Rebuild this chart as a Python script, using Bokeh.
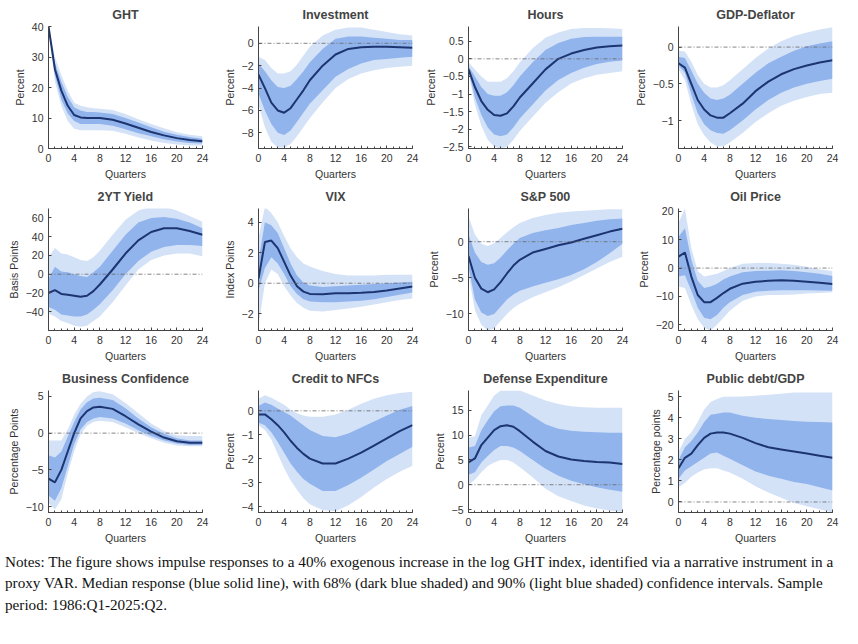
from bokeh.plotting import figure
from bokeh.layouts import column, gridplot
from bokeh.models import Span, Div, FixedTicker, Range1d, ColumnDataSource
from bokeh.embed import file_html
from bokeh.resources import INLINE

quarters = [0, 1, 2, 3, 4, 5, 6, 7, 8, 10, 12, 14, 16, 18, 20, 22, 24]

titles = ["GHT", "Investment", "Hours", "GDP-Deflator", "2YT Yield", "VIX", "S&P 500", "Oil Price",
          "Business Confidence", "Credit to NFCs", "Defense Expenditure", "Public debt/GDP"]
ylabels = ["Percent", "Percent", "Percent", "Percent", "Basis Points", "Index Points", "Percent", "Percent",
           "Percentage Points", "Percent", "Percent", "Percentage points"]
yticks = [[0, 10, 20, 30, 40], [-8, -6, -4, -2, 0], [-2.5, -2, -1.5, -1, -0.5, 0, 0.5], [-1, -0.5, 0],
          [-40, -20, 0, 20, 40, 60], [-2, 0, 2, 4], [-10, -5, 0], [-20, -10, 0, 10, 20],
          [-10, -5, 0, 5], [-4, -3, -2, -1, 0], [-5, 0, 5, 10, 15], [0, 1, 2, 3, 4, 5]]
yranges = [(0, 40), (-9.4, 1.5), (-2.55, 0.92), (-1.38, 0.28), (-60, 70), (-3.1, 4.9), (-12.3, 4.6), (-22, 21),
           (-10.8, 5.8), (-4.25, 0.85), (-5.6, 19), (-0.5, 5.3)]
show_zero = [False] + [True] * 11

median = [
    [40, 26, 19, 14, 11, 10.2, 10, 10, 10, 9.4, 8.2, 6.8, 5.4, 4.3, 3.4, 2.8, 2.4],
    [-2.8, -4, -5.3, -6, -6.2, -5.8, -5, -4.2, -3.3, -2, -1, -0.5, -0.35, -0.3, -0.3, -0.35, -0.4],
    [-0.3, -0.8, -1.2, -1.45, -1.6, -1.62, -1.55, -1.35, -1.1, -0.7, -0.3, 0, 0.15, 0.25, 0.32, 0.36, 0.38],
    [-0.22, -0.28, -0.5, -0.72, -0.85, -0.93, -0.96, -0.96, -0.9, -0.77, -0.6, -0.47, -0.37, -0.3, -0.25, -0.21, -0.18],
    [-20, -17, -21, -22, -23, -24, -23, -18, -11, 5, 22, 36, 45, 49, 49, 46, 42],
    [0.3, 2.7, 2.8, 2.3, 1.4, 0.5, -0.2, -0.55, -0.7, -0.72, -0.65, -0.65, -0.62, -0.58, -0.48, -0.35, -0.22],
    [-2, -5, -6.5, -7, -6.6, -5.6, -4.4, -3.3, -2.5, -1.5, -1, -0.5, -0.1, 0.4, 0.9, 1.4, 1.8],
    [4, 5.5, -3, -9.5, -12, -12, -10.5, -8.8, -7.3, -5.5, -4.8, -4.5, -4.3, -4.5, -4.8, -5.2, -5.6],
    [-6.2, -6.7, -5, -2.5, 0, 2, 3, 3.5, 3.6, 3.3, 2.3, 1.2, 0.2, -0.6, -1.1, -1.3, -1.3],
    [-0.15, -0.15, -0.35, -0.6, -0.9, -1.25, -1.55, -1.8, -2, -2.2, -2.2, -2, -1.75, -1.45, -1.15, -0.85, -0.6],
    [4.5, 5.3, 8, 9.5, 11, 11.8, 12, 11.7, 10.8, 8.7, 6.8, 5.7, 5.1, 4.8, 4.6, 4.5, 4.2],
    [1.6, 2.1, 2.3, 2.7, 3.05, 3.25, 3.3, 3.3, 3.25, 3.05, 2.8, 2.6, 2.5, 2.4, 2.3, 2.2, 2.1],
]
lo68 = [
    [40, 24, 16, 11.5, 9, 8, 8, 8, 8, 7.5, 6.3, 5, 4, 3, 2.3, 1.8, 1.6],
    [-4.5, -6, -7.2, -8, -8.2, -7.8, -7, -6.2, -5.4, -4.2, -3, -2.3, -1.8, -1.5, -1.4, -1.3, -1.2],
    [-0.35, -1.1, -1.6, -1.95, -2.15, -2.2, -2.15, -1.95, -1.7, -1.3, -0.9, -0.6, -0.4, -0.25, -0.15, -0.08, -0.05],
    [-0.25, -0.35, -0.65, -0.9, -1.05, -1.13, -1.17, -1.18, -1.13, -1.0, -0.85, -0.72, -0.62, -0.55, -0.5, -0.46, -0.43],
    [-35, -38, -43, -44, -45, -45, -43, -38, -32, -17, 0, 14, 24, 29, 31, 31, 30],
    [-0.5, 1, 1.7, 1.3, 0.6, -0.2, -0.7, -1.05, -1.2, -1.25, -1.25, -1.2, -1.15, -1.05, -0.9, -0.75, -0.6],
    [-3.5, -8, -9.8, -10.3, -10, -9, -8, -7.3, -6.8, -6.2, -5.7, -5.2, -4.6, -3.8, -2.8, -1.6, -0.3],
    [-3, -2.5, -8, -14, -17.5, -18, -16.5, -14, -12, -9.5, -8.3, -8, -7.8, -7.8, -7.8, -7.9, -8],
    [-8.5, -9.2, -7.5, -4.5, -1.5, 0.5, 1.5, 2, 2.2, 2, 1.3, 0.4, -0.4, -1, -1.4, -1.6, -1.6],
    [-0.5, -0.6, -0.9, -1.3, -1.75, -2.2, -2.55, -2.85, -3.05, -3.35, -3.35, -3.1, -2.8, -2.45, -2.1, -1.8, -1.5],
    [2, 2.5, 4.5, 5.8, 7, 7.8, 7.8, 7.5, 6.8, 5, 3.2, 1.8, 0.8, 0.1, -0.5, -1, -1.4],
    [1.1, 1.5, 1.7, 1.9, 2.1, 2.3, 2.35, 2.2, 2.05, 1.75, 1.45, 1.25, 1.1, 0.95, 0.85, 0.7, 0.55],
]
hi68 = [
    [40, 28, 22, 17, 13.5, 12.5, 12, 12, 11.8, 11.3, 10, 8.5, 7, 5.5, 4.5, 3.8, 3.2],
    [-1.8, -2.5, -3.3, -3.9, -4, -3.8, -3.2, -2.5, -1.7, -0.5, 0.4, 0.6, 0.6, 0.5, 0.4, 0.3, 0.3],
    [-0.2, -0.5, -0.8, -1, -1.05, -1.05, -0.95, -0.75, -0.5, -0.1, 0.25, 0.45, 0.57, 0.62, 0.63, 0.63, 0.63],
    [-0.13, -0.15, -0.32, -0.5, -0.62, -0.7, -0.72, -0.7, -0.65, -0.5, -0.35, -0.22, -0.13, -0.05, 0.01, 0.05, 0.08],
    [-5, 8, 3, 2, 0, -2, -3, 2, 8, 25, 42, 55, 60, 61, 59, 55, 49],
    [1.5, 4, 3.8, 3.3, 2.3, 1.3, 0.5, 0.05, -0.15, -0.25, -0.2, -0.15, -0.1, -0.05, 0, 0.05, 0.1],
    [1, -1.5, -2.8, -3.2, -3, -2.2, -1.2, -0.3, 0.5, 1.2, 1.6, 1.9, 2.3, 2.6, 2.9, 3.1, 3.2],
    [11, 14, 3, -4.5, -7, -6.5, -5.5, -4, -3, -1.5, -1, -0.9, -0.8, -1, -1.5, -2, -2.8],
    [-3, -3.3, -2.5, -0.5, 1.5, 3.2, 4.2, 4.7, 4.8, 4.5, 3.4, 2, 0.8, -0.1, -0.7, -1, -1.0],
    [0.2, 0.35, 0.25, 0.1, -0.05, -0.2, -0.4, -0.6, -0.8, -1.05, -1.1, -0.95, -0.7, -0.45, -0.2, 0.05, 0.2],
    [7.5, 7.8, 11, 13, 14.8, 15.8, 16, 16, 15.5, 13.8, 12.2, 11.3, 10.9, 10.7, 10.6, 10.5, 10.5],
    [2, 2.6, 2.9, 3.3, 3.8, 4.15, 4.2, 4.25, 4.25, 4.1, 4.0, 3.95, 3.9, 3.85, 3.82, 3.8, 3.78],
]
lo90 = [
    [40, 22, 14, 9, 6.5, 6, 6, 6, 6, 5.8, 4.8, 3.6, 2.6, 1.8, 1.3, 1, 1],
    [-5.5, -7.5, -8.8, -9.3, -9.3, -9, -8.3, -7.5, -6.7, -5.3, -4, -3.2, -2.7, -2.4, -2.2, -2.1, -2],
    [-0.4, -1.3, -1.9, -2.3, -2.5, -2.55, -2.5, -2.3, -2.05, -1.65, -1.25, -0.95, -0.7, -0.55, -0.45, -0.4, -0.35],
    [-0.3, -0.45, -0.78, -1.05, -1.2, -1.3, -1.35, -1.35, -1.3, -1.17, -1.02, -0.9, -0.8, -0.73, -0.68, -0.64, -0.62],
    [-42, -45, -50, -52, -55, -56, -55, -50, -45, -30, -12, 5, 15, 20, 22, 22, 19],
    [-2.8, 0, 0.9, 0.6, -0.2, -0.8, -1.3, -1.6, -1.8, -1.85, -1.75, -1.65, -1.55, -1.4, -1.25, -1.1, -1.0],
    [-4.5, -9.5, -11.5, -12.3, -12, -11, -10, -9.2, -8.6, -7.7, -7, -6.3, -5.5, -4.6, -3.7, -2.8, -2.1],
    [-6.5, -7, -13, -18, -21, -22, -20, -17.5, -15, -11.5, -10, -9.5, -9.5, -9.3, -9, -8.8, -8.5],
    [-9.5, -10.4, -9, -5.5, -2.5, -0.2, 1, 1.5, 1.7, 1.5, 0.8, 0, -0.7, -1.3, -1.7, -1.8, -1.8],
    [-0.6, -0.8, -1.2, -1.8, -2.4, -2.9, -3.3, -3.65, -3.9, -4.15, -4.2, -3.95, -3.6, -3.2, -2.85, -2.55, -2.3],
    [0, 1, 2.5, 3.8, 4.5, 5, 5, 4.5, 3.5, 1.5, -0.8, -2.3, -3.3, -4.2, -4.8, -5.2, -5.5],
    [0.7, 0.9, 1.2, 1.4, 1.55, 1.6, 1.6, 1.5, 1.4, 1.1, 0.75, 0.45, 0.2, -0.05, -0.2, -0.35, -0.5],
]
hi90 = [
    [40, 30, 24, 19, 15, 14, 13.5, 13.2, 13, 12.6, 11.3, 9.6, 8, 6.6, 5.3, 4.5, 4],
    [-1.2, -1.5, -2.2, -2.7, -2.7, -2.5, -1.9, -1.1, -0.3, 0.7, 1.2, 1.4, 1.4, 1.2, 1, 0.8, 0.7],
    [-0.1, -0.3, -0.5, -0.65, -0.65, -0.65, -0.55, -0.35, -0.1, 0.3, 0.6, 0.75, 0.85, 0.88, 0.88, 0.87, 0.85],
    [-0.05, -0.06, -0.2, -0.38, -0.5, -0.55, -0.55, -0.52, -0.45, -0.3, -0.15, -0.02, 0.08, 0.15, 0.2, 0.24, 0.27],
    [18, 28, 22, 21, 18, 15, 14, 18, 25, 42, 58, 68, 72, 72, 68, 62, 56],
    [3, 5, 4.6, 4, 3.1, 2.3, 1.7, 1.3, 1.1, 0.8, 0.6, 0.5, 0.5, 0.5, 0.55, 0.55, 0.55],
    [3.5, 1, -0.3, -0.6, -0.2, 0.5, 1.3, 2, 2.6, 3.3, 3.7, 4, 4.2, 4.3, 4.4, 4.5, 4.5],
    [16, 21, 7, -1, -3, -2.5, -2, -1, 0, 1.5, 1.8, 1.8, 1.5, 1.2, 0.5, -0.5, -1],
    [-1, -1, -1, 0.5, 2.5, 4, 5, 5.6, 5.7, 5.3, 4.1, 2.7, 1.3, 0.3, -0.3, -0.4, -0.4],
    [0.5, 0.65, 0.55, 0.4, 0.25, 0.05, -0.1, -0.2, -0.25, -0.25, -0.15, 0.05, 0.3, 0.5, 0.65, 0.75, 0.8],
    [9.5, 9.8, 14, 16, 18, 19, 19, 19, 19, 18, 17, 16.3, 15.8, 15.6, 15.5, 15.5, 15.5],
    [2.4, 3, 3.3, 3.8, 4.4, 4.75, 4.9, 5, 5, 5.02, 5.05, 5.1, 5.15, 5.2, 5.2, 5.2, 5.2],
]

notes = ("Notes: The figure shows impulse responses to a 40% exogenous increase in the log GHT index, identified via a narrative instrument in a "
         "proxy VAR. Median response (blue solid line), with 68% (dark blue shaded) and 90% (light blue shaded) confidence intervals. Sample "
         "period: 1986:Q1-2025:Q2.")

FONT = "Liberation Sans"
figs = []
for i in range(12):
    p = figure(width=210, height=182, output_backend="svg", toolbar_location=None,
               x_range=Range1d(0, 24), y_range=Range1d(*yranges[i]),
               min_border_left=48, min_border_right=8, min_border_top=4, min_border_bottom=4)
    p.title.text = titles[i]
    p.title.align = "center"
    p.title.text_font = FONT
    p.title.text_font_size = "12.5px"
    p.title.text_font_style = "bold"
    p.outline_line_color = None
    p.xgrid.visible = False
    p.ygrid.visible = False
    src = ColumnDataSource(dict(x=quarters, m=median[i], l68=lo68[i], h68=hi68[i], l90=lo90[i], h90=hi90[i]))
    p.varea(x="x", y1="l90", y2="h90", source=src, fill_color="#d4e2f8", fill_alpha=1)
    p.varea(x="x", y1="l68", y2="h68", source=src, fill_color="#92b4ec", fill_alpha=1)
    if show_zero[i]:
        p.add_layout(Span(location=0, dimension="width", line_color="#666666", line_width=0.8, line_dash="4 2 1 2"))
    p.line(x="x", y="m", source=src, line_color="#1c3470", line_width=2)
    p.xaxis.ticker = FixedTicker(ticks=[0, 4, 8, 12, 16, 20, 24], minor_ticks=list(range(25)))
    p.yaxis.ticker = FixedTicker(ticks=yticks[i])
    p.xaxis.axis_label = "Quarters"
    p.yaxis.axis_label = ylabels[i]
    for ax in (p.xaxis[0], p.yaxis[0]):
        ax.axis_label_text_font = FONT
        ax.axis_label_text_font_size = "10.5px"
        ax.axis_label_text_font_style = "normal"
        ax.axis_label_text_color = "#333333"
        ax.axis_label_standoff = 3
        ax.major_label_text_font = FONT
        ax.major_label_text_font_size = "10.5px"
        ax.major_label_text_color = "#333333"
        ax.axis_line_color = "#444444"
        ax.major_tick_line_color = "#444444"
        ax.minor_tick_line_color = "#444444"
        ax.major_tick_in = 3
        ax.major_tick_out = 0
        ax.minor_tick_in = 2
        ax.minor_tick_out = 0
    figs.append(p)

grid = gridplot([figs[0:4], figs[4:8], figs[8:12]], toolbar_location=None)
div = Div(text=notes, width=842, styles={"font-family": "Liberation Serif", "font-size": "15.2px",
                                          "line-height": "1.4", "color": "#111111"})
layout = column(grid, div, spacing=0)
open("out.html", "w").write(file_html(layout, INLINE))
